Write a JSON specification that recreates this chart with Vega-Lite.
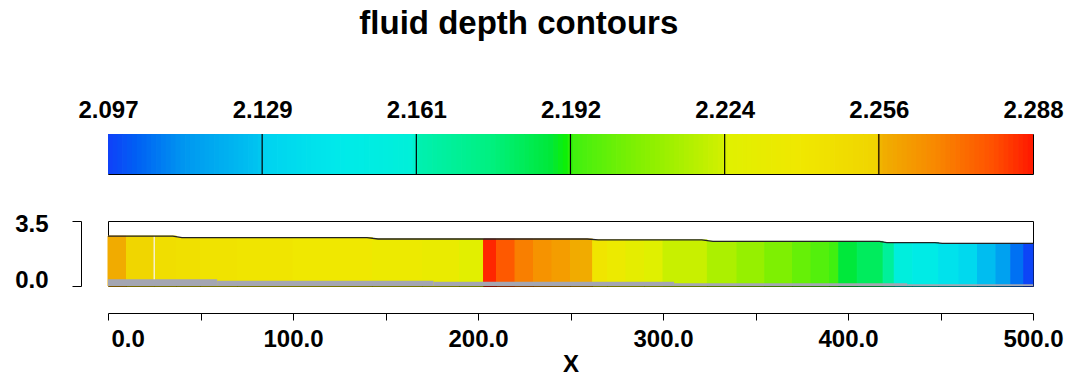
{
  "$schema": "https://vega.github.io/schema/vega-lite/v6.json",
  "background": "white",
  "padding": {"left": 14, "top": 7, "right": 20, "bottom": 0},
  "title": {"text": "fluid depth contours", "fontSize": 33, "font": "Liberation Sans", "fontWeight": "bold", "color": "black", "anchor": "middle", "dx": -20, "offset": 57},
  "config": {
    "font": "Liberation Sans",
    "view": {"stroke": "black", "strokeWidth": 1},
    "axis": {"labelFont": "Liberation Sans", "labelFontSize": 24, "labelFontWeight": "bold", "labelColor": "black", "titleFont": "Liberation Sans", "titleFontSize": 24, "titleFontWeight": "bold", "titleColor": "black", "domainColor": "black", "tickColor": "black", "grid": false, "labelOverlap": false}
  },
  "bounds": "flush",
  "spacing": 47,
  "resolve": {"scale": {"x": "independent", "y": "independent", "color": "shared"}},
  "vconcat": [
    {
      "width": 925,
      "height": 40,
      "layer": [
        {
          "data": {"values": [
            {"a":2.0975},{"a":2.0985},{"a":2.0995},
            {"a":2.1005},{"a":2.1015},{"a":2.1025},{"a":2.1035},{"a":2.1045},{"a":2.1055},{"a":2.1065},{"a":2.1075},{"a":2.1085},{"a":2.1095},
            {"a":2.1105},{"a":2.1115},{"a":2.1125},{"a":2.1135},{"a":2.1145},{"a":2.1155},{"a":2.1165},{"a":2.1175},{"a":2.1185},{"a":2.1195},
            {"a":2.1205},{"a":2.1215},{"a":2.1225},{"a":2.1235},{"a":2.1245},{"a":2.1255},{"a":2.1265},{"a":2.1275},{"a":2.1285},{"a":2.1295},
            {"a":2.1305},{"a":2.1315},{"a":2.1325},{"a":2.1335},{"a":2.1345},{"a":2.1355},{"a":2.1365},{"a":2.1375},{"a":2.1385},{"a":2.1395},
            {"a":2.1405},{"a":2.1415},{"a":2.1425},{"a":2.1435},{"a":2.1445},{"a":2.1455},{"a":2.1465},{"a":2.1475},{"a":2.1485},{"a":2.1495},
            {"a":2.1505},{"a":2.1515},{"a":2.1525},{"a":2.1535},{"a":2.1545},{"a":2.1555},{"a":2.1565},{"a":2.1575},{"a":2.1585},{"a":2.1595},
            {"a":2.1605},{"a":2.1615},{"a":2.1625},{"a":2.1635},{"a":2.1645},{"a":2.1655},{"a":2.1665},{"a":2.1675},{"a":2.1685},{"a":2.1695},
            {"a":2.1705},{"a":2.1715},{"a":2.1725},{"a":2.1735},{"a":2.1745},{"a":2.1755},{"a":2.1765},{"a":2.1775},{"a":2.1785},{"a":2.1795},
            {"a":2.1805},{"a":2.1815},{"a":2.1825},{"a":2.1835},{"a":2.1845},{"a":2.1855},{"a":2.1865},{"a":2.1875},{"a":2.1885},{"a":2.1895},
            {"a":2.1905},{"a":2.1915},{"a":2.1925},{"a":2.1935},{"a":2.1945},{"a":2.1955},{"a":2.1965},{"a":2.1975},{"a":2.1985},{"a":2.1995},
            {"a":2.2005},{"a":2.2015},{"a":2.2025},{"a":2.2035},{"a":2.2045},{"a":2.2055},{"a":2.2065},{"a":2.2075},{"a":2.2085},{"a":2.2095},
            {"a":2.2105},{"a":2.2115},{"a":2.2125},{"a":2.2135},{"a":2.2145},{"a":2.2155},{"a":2.2165},{"a":2.2175},{"a":2.2185},{"a":2.2195},
            {"a":2.2205},{"a":2.2215},{"a":2.2225},{"a":2.2235},{"a":2.2245},{"a":2.2255},{"a":2.2265},{"a":2.2275},{"a":2.2285},{"a":2.2295},
            {"a":2.2305},{"a":2.2315},{"a":2.2325},{"a":2.2335},{"a":2.2345},{"a":2.2355},{"a":2.2365},{"a":2.2375},{"a":2.2385},{"a":2.2395},
            {"a":2.2405},{"a":2.2415},{"a":2.2425},{"a":2.2435},{"a":2.2445},{"a":2.2455},{"a":2.2465},{"a":2.2475},{"a":2.2485},{"a":2.2495},
            {"a":2.2505},{"a":2.2515},{"a":2.2525},{"a":2.2535},{"a":2.2545},{"a":2.2555},{"a":2.2565},{"a":2.2575},{"a":2.2585},{"a":2.2595},
            {"a":2.2605},{"a":2.2615},{"a":2.2625},{"a":2.2635},{"a":2.2645},{"a":2.2655},{"a":2.2665},{"a":2.2675},{"a":2.2685},{"a":2.2695},
            {"a":2.2705},{"a":2.2715},{"a":2.2725},{"a":2.2735},{"a":2.2745},{"a":2.2755},{"a":2.2765},{"a":2.2775},{"a":2.2785},{"a":2.2795},
            {"a":2.2805},{"a":2.2815},{"a":2.2825},{"a":2.2835},{"a":2.2845},{"a":2.2855},{"a":2.2865},{"a":2.2875}
          ]},
          "mark": {"type": "rule", "strokeWidth": 5.6, "clip": true},
          "encoding": {
            "x": {"field": "a", "type": "quantitative",
              "scale": {"domain": [2.097, 2.288], "nice": false, "zero": false},
              "axis": {"orient": "top", "values": [2.097, 2.128833, 2.160667, 2.19249, 2.224333, 2.256167, 2.288], "format": ".3f", "ticks": false, "domain": false, "labelPadding": 12, "title": null, "labelFlush": false}},
            "color": {"field": "a", "type": "quantitative",
              "scale": {"domain": [2.097, 2.103, 2.113, 2.1283, 2.1293, 2.145, 2.1602, 2.1612, 2.176, 2.1885, 2.192, 2.193, 2.208, 2.2238, 2.2248, 2.240, 2.2556, 2.2566, 2.268, 2.280, 2.288],
                        "range": ["#1040f8", "#0060f4", "#0098f0", "#00c4f0", "#00d2f0", "#00eaea", "#00f0d8", "#00f0b0", "#00f080", "#00e838", "#10f000", "#40f010", "#88f000", "#d0f000", "#e0f000", "#f0e800", "#f0d400", "#f0b000", "#f88800", "#ff5000", "#ff1800"],
                        "interpolate": "rgb"},
              "legend": null}
          }
        },
        {
          "data": {"values": [{"t": 2.128833}, {"t": 2.160667}, {"t": 2.19249}, {"t": 2.224333}, {"t": 2.256167}]},
          "mark": {"type": "rule", "color": "black", "strokeWidth": 1.2},
          "encoding": {"x": {"field": "t", "type": "quantitative"}}
        }
      ]
    },
    {
      "width": 925,
      "height": 65,
      "layer": [
        {
          "data": {"values": [
            {"x": 0, "x2": 10, "s": 2.69, "d": 2.258},
            {"x": 10, "x2": 25, "s": 2.69, "d": 2.254},
            {"x": 25, "x2": 37, "s": 2.69, "d": 2.248},
            {"x": 37, "x2": 50, "s": 2.60, "d": 2.246},
            {"x": 50, "x2": 70, "s": 2.60, "d": 2.244},
            {"x": 70, "x2": 100, "s": 2.60, "d": 2.242},
            {"x": 100, "x2": 143, "s": 2.60, "d": 2.240},
            {"x": 143, "x2": 170, "s": 2.53, "d": 2.237},
            {"x": 170, "x2": 190, "s": 2.53, "d": 2.234},
            {"x": 190, "x2": 203, "s": 2.53, "d": 2.227},
            {"x": 203, "x2": 210, "s": 2.53, "d": 2.286},
            {"x": 210, "x2": 220, "s": 2.53, "d": 2.278},
            {"x": 220, "x2": 230, "s": 2.53, "d": 2.270},
            {"x": 230, "x2": 240, "s": 2.53, "d": 2.265},
            {"x": 240, "x2": 250, "s": 2.53, "d": 2.262},
            {"x": 250, "x2": 262, "s": 2.53, "d": 2.258},
            {"x": 262, "x2": 270, "s": 2.48, "d": 2.242},
            {"x": 270, "x2": 280, "s": 2.48, "d": 2.236},
            {"x": 280, "x2": 290, "s": 2.48, "d": 2.230},
            {"x": 290, "x2": 300, "s": 2.48, "d": 2.225},
            {"x": 300, "x2": 324, "s": 2.48, "d": 2.222},
            {"x": 324, "x2": 340, "s": 2.40, "d": 2.216},
            {"x": 340, "x2": 355, "s": 2.40, "d": 2.211},
            {"x": 355, "x2": 370, "s": 2.40, "d": 2.206},
            {"x": 370, "x2": 380, "s": 2.40, "d": 2.201},
            {"x": 380, "x2": 390, "s": 2.40, "d": 2.197},
            {"x": 390, "x2": 395, "s": 2.40, "d": 2.193},
            {"x": 395, "x2": 405, "s": 2.40, "d": 2.188},
            {"x": 405, "x2": 419, "s": 2.40, "d": 2.182},
            {"x": 419, "x2": 425, "s": 2.34, "d": 2.168},
            {"x": 425, "x2": 435, "s": 2.34, "d": 2.156},
            {"x": 435, "x2": 449, "s": 2.34, "d": 2.148},
            {"x": 449, "x2": 460, "s": 2.29, "d": 2.140},
            {"x": 460, "x2": 470, "s": 2.29, "d": 2.134},
            {"x": 470, "x2": 480, "s": 2.29, "d": 2.126},
            {"x": 480, "x2": 488, "s": 2.29, "d": 2.116},
            {"x": 488, "x2": 495, "s": 2.29, "d": 2.106},
            {"x": 495, "x2": 500, "s": 2.29, "d": 2.098}
          ]},
          "mark": {"type": "rect", "strokeWidth": 1},
          "encoding": {
            "x": {"field": "x", "type": "quantitative",
              "scale": {"domain": [0, 500], "nice": false, "zero": false},
              "axis": {"values": [0, 50, 100, 150, 200, 250, 300, 350, 400, 450, 500],
                       "labelExpr": "datum.value % 100 == 0 ? format(datum.value, '.1f') : ''",
                       "offset": 27, "tickSize": 7, "labelPadding": 7, "title": "X", "titlePadding": 1,
                       "labelFlush": false,
                       "labelAlign": {"condition": {"test": "datum.value == 0", "value": "left"}, "value": "center"},
                       "labelOffset": {"condition": {"test": "datum.value == 0", "value": 3}, "value": 0}}},
            "x2": {"field": "x2"},
            "y": {"field": "s", "type": "quantitative",
              "scale": {"domain": [0, 3.5], "nice": false, "zero": false},
              "axis": {"values": [0, 1.75, 3.5],
                       "labelExpr": "datum.value == 1.75 ? '' : format(datum.value, '.1f')",
                       "offset": 27, "tickSize": 9, "labelPadding": 24, "title": null, "labelFlush": false,
                       "labelBaseline": {"condition": {"test": "datum.value == 0", "value": "alphabetic"}, "value": "middle"},
                       "labelOffset": {"condition": {"test": "datum.value == 3.5", "value": 3}, "value": 1}}},
            "y2": {"datum": 0},
            "color": {"field": "d", "type": "quantitative", "legend": null},
            "stroke": {"field": "d", "type": "quantitative", "legend": null,
              "scale": {"domain": [2.097, 2.103, 2.113, 2.1283, 2.1293, 2.145, 2.1602, 2.1612, 2.176, 2.1885, 2.192, 2.193, 2.208, 2.2238, 2.2248, 2.240, 2.2556, 2.2566, 2.268, 2.280, 2.288],
                        "range": ["#1040f8", "#0060f4", "#0098f0", "#00c4f0", "#00d2f0", "#00eaea", "#00f0d8", "#00f0b0", "#00f080", "#00e838", "#10f000", "#40f010", "#88f000", "#d0f000", "#e0f000", "#f0e800", "#f0d400", "#f0b000", "#f88800", "#ff5000", "#ff1800"],
                        "interpolate": "rgb"}}
          }
        },
        {
          "data": {"values": [
            {"xa": 0, "xb": 59, "b": 0.36},
            {"xa": 59, "xb": 176, "b": 0.285},
            {"xa": 176, "xb": 306, "b": 0.23},
            {"xa": 306, "xb": 432, "b": 0.145},
            {"xa": 432, "xb": 500, "b": 0.09}
          ]},
          "mark": {"type": "rect", "color": "#a4a6b2", "strokeWidth": 0},
          "encoding": {
            "x": {"field": "xa", "type": "quantitative"},
            "x2": {"field": "xb"},
            "y": {"field": "b", "type": "quantitative"},
            "y2": {"datum": 0}
          }
        },
        {
          "data": {"values": [{"x": 25, "y1": 0.36, "y2": 2.69}]},
          "mark": {"type": "rule", "color": "#f6efc8", "strokeWidth": 1.5},
          "encoding": {
            "x": {"field": "x", "type": "quantitative"},
            "y": {"field": "y1", "type": "quantitative"},
            "y2": {"field": "y2"}
          }
        },
        {
          "data": {"values": [
            {"x": 0, "s": 2.69}, {"x": 35, "s": 2.69}, {"x": 40, "s": 2.60}, {"x": 140, "s": 2.60},
            {"x": 146, "s": 2.53}, {"x": 259, "s": 2.53}, {"x": 265, "s": 2.48}, {"x": 321, "s": 2.48},
            {"x": 327, "s": 2.40}, {"x": 417, "s": 2.40}, {"x": 421, "s": 2.34}, {"x": 447, "s": 2.34},
            {"x": 451, "s": 2.29}, {"x": 500, "s": 2.29}
          ]},
          "mark": {"type": "line", "color": "#222222", "strokeWidth": 1.3},
          "encoding": {
            "x": {"field": "x", "type": "quantitative"},
            "y": {"field": "s", "type": "quantitative"}
          }
        }
      ]
    }
  ]
}
